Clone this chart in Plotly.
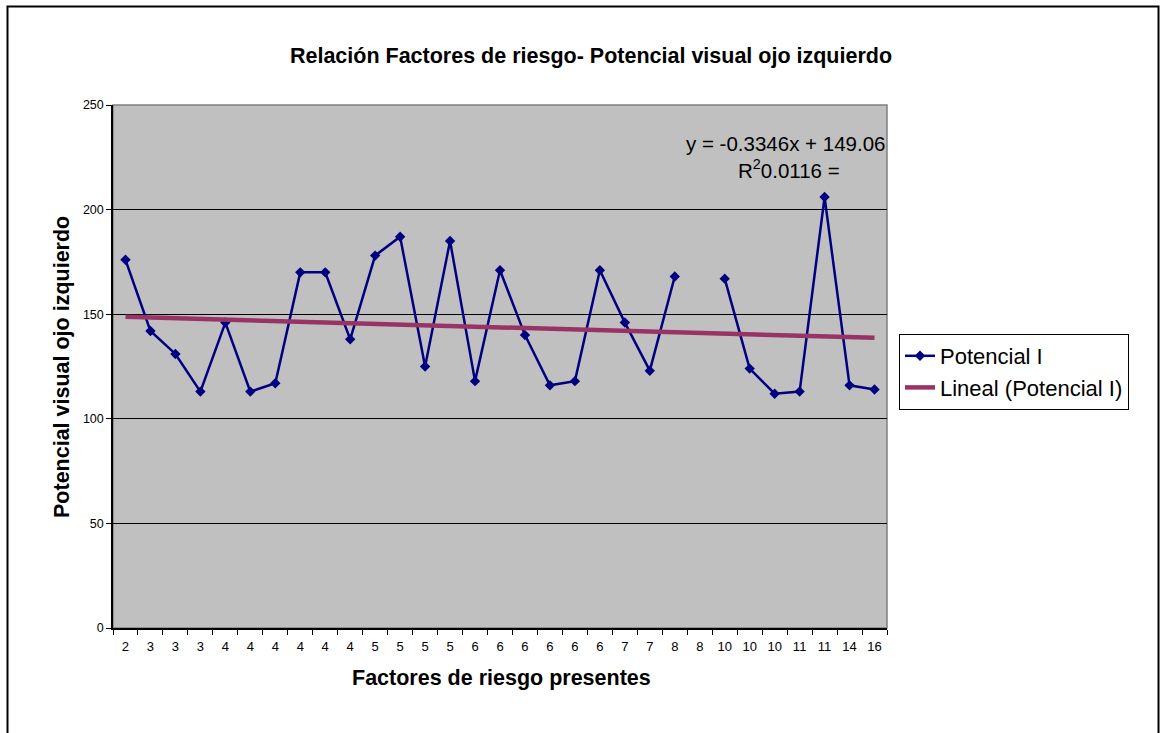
import plotly.graph_objects as go

# Number of risk factors present for each patient (category labels)
factores = ["2", "3", "3", "3", "4", "4", "4", "4", "4", "4",
            "5", "5", "5", "5", "6", "6", "6", "6", "6", "6",
            "7", "7", "8", "8", "10", "10", "10", "11", "11", "14", "16"]

# Left-eye visual potential (None = missing value)
potencial_i = [176, 142, 131, 113, 146, 113, 117, 170, 170, 138,
               178, 187, 125, 185, 118, 171, 140, 116, 118, 171,
               146, 123, 168, None, 167, 124, 112, 113, 206, 116, 114]

# Linear trend coefficients (x = 1..n)
pendiente = -0.3346
intercepto = 149.06
r_cuadrado = 0.0116

y_ticks = [0, 50, 100, 150, 200, 250]

FONT = "Arial, Liberation Sans, sans-serif"

pos = list(range(len(factores)))
tendencia = [pendiente * (i + 1) + intercepto for i in pos]

fig = go.Figure()

fig.add_trace(go.Scatter(
    x=pos, y=potencial_i, name="Potencial I",
    mode="lines+markers",
    line=dict(color="#000080", width=2.5),
    marker=dict(symbol="diamond", size=8, color="#000080"),
    connectgaps=False,
))

fig.add_trace(go.Scatter(
    x=pos, y=tendencia, name="Lineal (Potencial I)",
    mode="lines",
    line=dict(color="#993366", width=4.5),
))

L, R, T, B = 113, 273, 105, 105
W, H = 1160, 733
pw, ph = W - L - R, H - T - B

def px_x(p):
    return (p - L) / pw

def px_y(p):
    return (H - B - p) / ph

fig.update_layout(
    width=W, height=H,
    margin=dict(l=L, r=R, t=T, b=B),
    paper_bgcolor="white",
    plot_bgcolor="#C0C0C0",
    font=dict(family=FONT, color="black"),
    showlegend=True,
    legend=dict(
        x=px_x(899), y=px_y(334), xanchor="left", yanchor="top",
        bordercolor="black", borderwidth=1, bgcolor="white",
        font=dict(size=22, family=FONT),
        itemwidth=30, tracegroupgap=0,
    ),
    xaxis=dict(
        range=[-0.5, len(factores) - 0.5],
        tickmode="array", tickvals=pos, ticktext=factores,
        ticks="", showgrid=False, zeroline=False,
        showline=True, linecolor="black", linewidth=1.5,
        tickfont=dict(size=13, family=FONT),
        ticklabelstandoff=6,
        minor=dict(tick0=-0.5, dtick=1, ticks="outside", ticklen=5,
                   tickcolor="black", tickwidth=1, showgrid=False),
    ),
    yaxis=dict(
        range=[0, 250],
        tickmode="array", tickvals=y_ticks,
        ticks="outside", ticklen=5, tickcolor="black",
        showgrid=True, gridcolor="black", gridwidth=1,
        zeroline=False,
        showline=True, linecolor="black", linewidth=1.5,
        tickfont=dict(size=12.5, family=FONT),
    ),
    title=dict(
        text="<b>Relación Factores de riesgo- Potencial visual ojo izquierdo</b>",
        font=dict(size=21.5, family=FONT),
        x=px_x(591), xref="paper", xanchor="center",
        y=1 - 55 / H, yref="container", yanchor="middle",
    ),
)

# Axis titles
fig.add_annotation(
    xref="paper", yref="paper", x=px_x(501), y=px_y(678),
    text="<b>Factores de riesgo presentes</b>", showarrow=False,
    font=dict(size=21.5, family=FONT), xanchor="center", yanchor="middle",
)
fig.add_annotation(
    xref="paper", yref="paper", x=px_x(62), y=px_y(367),
    text="<b>Potencial visual ojo izquierdo</b>", showarrow=False, textangle=-90,
    font=dict(size=21.5, family=FONT), xanchor="center", yanchor="middle",
)

# Plot-area frame (grey) and outer chart border (black)
fig.add_shape(type="rect", xref="paper", yref="paper",
              x0=0, x1=1, y0=0, y1=1,
              line=dict(color="#808080", width=1.5), layer="below")
fig.add_shape(type="rect", xref="paper", yref="paper",
              x0=px_x(7.5), x1=px_x(1158.5), y0=px_y(740), y1=px_y(6.5),
              line=dict(color="black", width=2))

# Trend line equation
fig.add_annotation(
    xref="paper", yref="paper", x=px_x(785), y=px_y(143),
    text=f"y = {pendiente}x + {intercepto}", showarrow=False,
    font=dict(size=20.5, family=FONT), xanchor="center", yanchor="middle",
)
fig.add_annotation(
    xref="paper", yref="paper", x=px_x(789), y=px_y(169),
    text=f"R<sup>2</sup>{r_cuadrado} =", showarrow=False,
    font=dict(size=20.5, family=FONT), xanchor="center", yanchor="middle",
)

fig.write_html("out.html")
